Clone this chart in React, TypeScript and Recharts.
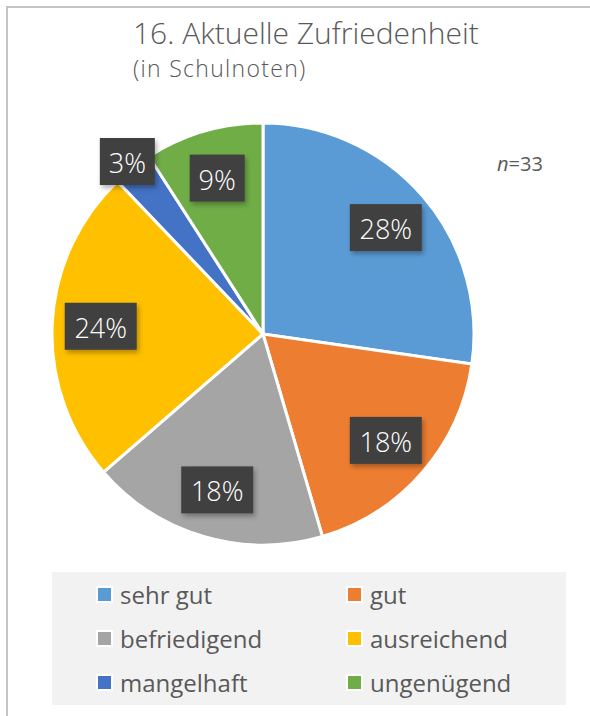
import { PieChart, Pie, Cell, Legend } from "recharts";

const categories = ["sehr gut", "gut", "befriedigend", "ausreichend", "mangelhaft", "ungenügend"];
// slice sizes (answers out of n=33) and the percentage labels as printed
const counts = [9, 6, 6, 8, 1, 3];
const shownPercent = [28, 18, 18, 24, 3, 9];
const colors = ["#5B9BD5", "#ED7D31", "#A5A5A5", "#FFC000", "#4472C4", "#70AD47"];

const data = categories.map((name, i) => ({ name, value: counts[i], pct: shownPercent[i] }));

const RADIAN = Math.PI / 180;
const FONT = "'Open Sans', sans-serif";

function renderLabel(props: any) {
  const { cx, cy, midAngle, outerRadius, percent, payload } = props;
  // small slices get pushed outside like in the original
  const r = percent < 0.05 ? outerRadius * 1.04 : outerRadius * 0.77;
  const x = cx + r * Math.cos(-midAngle * RADIAN);
  const y = cy + r * Math.sin(-midAngle * RADIAN);
  const pct = payload.pct;
  const w = 38 + 17 * String(pct).length;
  const h = 47;
  return (
    <g>
      <rect x={x - w / 2} y={y - h / 2} width={w} height={h} fill="#404040" filter="url(#shadow)" />
      <text
        x={x}
        y={y + 1}
        fill="#ffffff"
        fontSize={27}
        fontFamily={FONT}
        fontWeight={300}
        textAnchor="middle"
        dominantBaseline="central"
      >
        {pct}%
      </text>
    </g>
  );
}

function LegendBox() {
  return (
    <div
      style={{
        width: 514,
        height: 133,
        background: "#f2f2f2",
        display: "grid",
        gridTemplateColumns: "250px 250px",
        gridAutoRows: "44px",
        paddingLeft: 44,
        paddingTop: 0,
        boxSizing: "border-box",
        fontFamily: FONT,
        fontSize: 24,
        color: "#595959",
      }}
    >
      {categories.map((c, i) => (
        <div key={c} style={{ display: "flex", alignItems: "center", gap: 7 }}>
          <span
            style={{
              width: 13,
              height: 13,
              background: colors[i],
              border: "2px solid #fff",
              display: "inline-block",
            }}
          />
          <span>{c}</span>
        </div>
      ))}
    </div>
  );
}

export default function App() {
  return (
    <div style={{ position: "absolute", left: 0, top: 0, width: 590, height: 716, background: "#fff", overflow: "hidden" }}>
      <div
        style={{
          position: "absolute",
          left: 6,
          top: 6,
          width: 600,
          height: 720,
          border: "2px solid #c4c4c4",
          boxSizing: "border-box",
        }}
      />
      <div
        style={{
          position: "absolute",
          left: 133,
          top: 12,
          fontFamily: FONT,
          fontWeight: 300,
          fontSize: 30,
          color: "#595959",
          whiteSpace: "nowrap",
        }}
      >
        16. Aktuelle Zufriedenheit
      </div>
      <div
        style={{
          position: "absolute",
          left: 133,
          top: 52,
          fontFamily: FONT,
          fontWeight: 300,
          fontSize: 23,
          letterSpacing: 1.3,
          color: "#595959",
          whiteSpace: "nowrap",
        }}
      >
        (in Schulnoten)
      </div>
      <div
        style={{
          position: "absolute",
          left: 497,
          top: 150,
          fontFamily: FONT,
          fontSize: 20,
          color: "#595959",
        }}
      >
        <i>n</i>=33
      </div>
      <div style={{ position: "absolute", left: 0, top: 0 }}>
        <PieChart width={590} height={716} margin={{ top: 0, right: 0, bottom: 0, left: 0 }}>
          <defs>
            <filter id="shadow" x="-20%" y="-20%" width="150%" height="150%">
              <feDropShadow dx="2" dy="3" stdDeviation="2.5" floodColor="#000" floodOpacity="0.3" />
            </filter>
          </defs>
          <Pie
            data={data}
            dataKey="value"
            nameKey="name"
            cx={263}
            cy={334}
            outerRadius={211}
            startAngle={90}
            endAngle={-270}
            stroke="#ffffff"
            strokeWidth={3}
            label={renderLabel}
            labelLine={false}
            isAnimationActive={false}
          >
            {data.map((d, i) => (
              <Cell key={d.name} fill={colors[i]} />
            ))}
          </Pie>
          <Legend
            content={() => <LegendBox />}
            wrapperStyle={{ position: "absolute", left: 52, top: 572, width: 514, height: 133 }}
          />
        </PieChart>
      </div>
    </div>
  );
}
